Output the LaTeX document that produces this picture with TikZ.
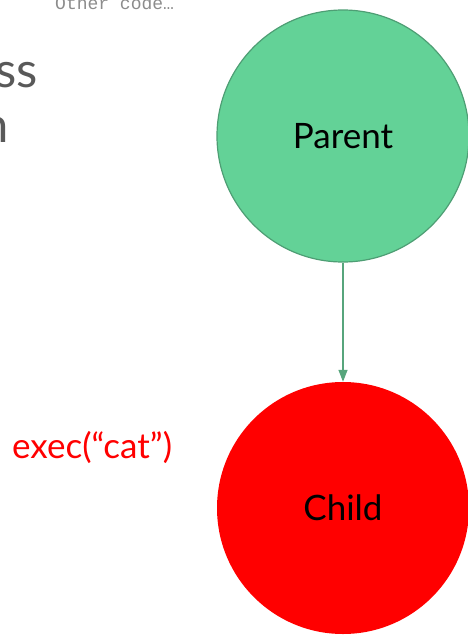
\documentclass[tikz,border=0pt]{standalone}
\usepackage{fontspec}
\setmainfont{Lato}
\newfontfamily\codefont{Liberation Mono}
\usetikzlibrary{arrows.meta}

\definecolor{parentfill}{HTML}{63D297}
\definecolor{parentedge}{HTML}{4E9E74}
\definecolor{linkgreen}{HTML}{57A57C}
\definecolor{childred}{HTML}{FF0000}
\definecolor{headgray}{HTML}{595959}
\definecolor{codegray}{HTML}{8C8C8C}

\tikzset{
  proc/.style={circle, minimum size=252pt, inner sep=0pt,
               font=\fontsize{35}{40}\selectfont, text=black},
  parentproc/.style={proc, fill=parentfill, draw=parentedge, line width=1.2pt},
  childproc/.style={proc, fill=childred},
  fork/.style={-{Triangle[length=12pt,width=9pt]}, draw=linkgreen, line width=1.3pt},
  heading/.style={inner sep=0pt, text=headgray, font=\fontsize{49}{58}\selectfont},
  note/.style={inner sep=0pt, text=childred, font=\fontsize{35}{42}\selectfont},
  codeline/.style={inner sep=0pt, text=codegray, font=\codefont\fontsize{18}{20}\selectfont},
}

\begin{document}
\begin{tikzpicture}[x=1pt, y=-1pt]
  \useasboundingbox (0,0) rectangle (468,635);
  \clip (0,0) rectangle (468,635);

  % cut-off code line and heading fragments
  \node[codeline, anchor=base west] (code) at (55,9) {Other code…};
  \node[heading, anchor=base east] (head1) at (38,87) {ss};
  \node[heading, anchor=base east] (head2) at (9,142) {n};

  % process circles
  \node[parentproc] (parent) at (343,136) {Parent};
  \node[childproc] (child) at (343,508) {Child};

  % exec label
  \node[note, anchor=base west] (exec) at (12,458) {exec(“cat”)};

  % fork arrow
  \draw[fork] (parent) -- (child);
\end{tikzpicture}
\end{document}
